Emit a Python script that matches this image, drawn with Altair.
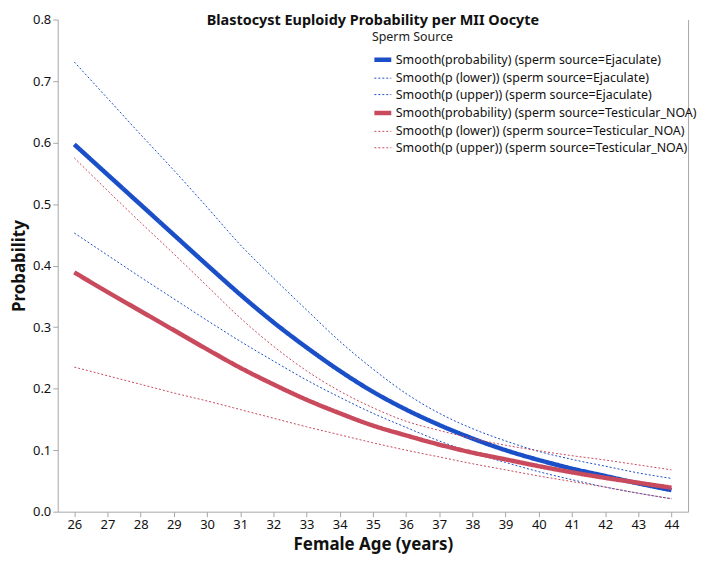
import altair as alt
import pandas as pd

ages = list(range(26, 45))

ejac_prob = [0.597, 0.548, 0.499, 0.450, 0.401, 0.353, 0.308, 0.267, 0.229, 0.195,
             0.166, 0.141, 0.119, 0.100, 0.084, 0.070, 0.058, 0.046, 0.035]
ejac_lower = [0.453, 0.417, 0.381, 0.346, 0.311, 0.277, 0.245, 0.214, 0.186, 0.160,
              0.137, 0.115, 0.096, 0.080, 0.065, 0.052, 0.040, 0.030, 0.021]
ejac_upper = [0.731, 0.672, 0.613, 0.555, 0.495, 0.434, 0.380, 0.328, 0.277, 0.232,
              0.192, 0.160, 0.135, 0.115, 0.098, 0.085, 0.074, 0.063, 0.054]
tes_prob = [0.389, 0.357, 0.326, 0.295, 0.264, 0.234, 0.207, 0.182, 0.160, 0.140,
            0.124, 0.109, 0.096, 0.085, 0.074, 0.064, 0.055, 0.047, 0.039]
tes_lower = [0.235, 0.221, 0.207, 0.193, 0.180, 0.166, 0.152, 0.138, 0.125, 0.112,
             0.100, 0.089, 0.078, 0.068, 0.058, 0.049, 0.040, 0.030, 0.021]
tes_upper = [0.575, 0.522, 0.470, 0.419, 0.367, 0.315, 0.269, 0.229, 0.196, 0.169,
             0.147, 0.132, 0.119, 0.108, 0.099, 0.091, 0.084, 0.076, 0.068]

y_ticks = [0.0, 0.1, 0.2, 0.3, 0.4, 0.5, 0.6, 0.7, 0.8]

series_names = [
    "Smooth(probability) (sperm source=Ejaculate)",
    "Smooth(p (lower)) (sperm source=Ejaculate)",
    "Smooth(p (upper)) (sperm source=Ejaculate)",
    "Smooth(probability) (sperm source=Testicular_NOA)",
    "Smooth(p (lower)) (sperm source=Testicular_NOA)",
    "Smooth(p (upper)) (sperm source=Testicular_NOA)",
]
series_values = [ejac_prob, ejac_lower, ejac_upper, tes_prob, tes_lower, tes_upper]
draw_order = [1, 2, 4, 5, 0, 3]

rows = []
for i, (name, vals) in enumerate(zip(series_names, series_values)):
    for a, v in zip(ages, vals):
        rows.append({"age": a, "value": v, "series": name, "order": draw_order[i]})
df = pd.DataFrame(rows)

BLUE = "#1a4fc8"
RED = "#c94a5c"
GRAY = "#a6a6a6"
FONT = "Noto Sans"

xscale = alt.Scale(domain=[25.5, 44.5], nice=False, zero=False)
yscale = alt.Scale(domain=[0, 0.8], nice=False)

x_axis = alt.Axis(values=ages, format="d", title="Female Age (years)", labelOverlap=False,
                  grid=False, domainColor=GRAY, tickColor=GRAY, tickSize=5,
                  labelFontSize=13, labelColor="#111", labelPadding=2,
                  titleFontSize=17, titleFontWeight="bold", titleColor="#111",
                  titlePadding=5)

legend_cfg = alt.Legend(
    title="Sperm Source", orient="none", legendX=316, legendY=12,
    symbolType="stroke", symbolSize=289, labelOffset=2, padding=0,
    titleFontSize=12.5, titleFontWeight="normal", titleColor="#222",
    labelFontSize=12.5, labelColor="#111", labelLimit=400, rowPadding=0.5,
    titlePadding=5,
)

lines = alt.Chart(df).mark_line(interpolate="monotone").encode(
    x=alt.X("age:Q", scale=xscale, axis=x_axis),
    y=alt.Y("value:Q", scale=yscale,
            axis=alt.Axis(values=y_ticks, format=".1f",
                          title="Probability", grid=False, domainColor=GRAY, tickColor=GRAY,
                          tickSize=5, labelFontSize=13, labelColor="#111", labelPadding=2,
                          titleFontSize=17, titleFontWeight="bold", titleColor="#111",
                          titlePadding=4)),
    color=alt.Color("series:N", scale=alt.Scale(domain=series_names,
                    range=[BLUE, BLUE, BLUE, RED, RED, RED]), legend=legend_cfg),
    strokeDash=alt.StrokeDash("series:N", scale=alt.Scale(domain=series_names,
                    range=[[1, 0], [2, 2], [2, 2], [1, 0], [2, 2], [2, 2]]), legend=legend_cfg),
    strokeWidth=alt.StrokeWidth("series:N", scale=alt.Scale(type="ordinal", domain=series_names,
                    range=[4.5, 1, 1, 4.5, 1, 1]), legend=legend_cfg),
    order=alt.Order("order:Q"),
    detail="series:N",
)

right_border = alt.Chart(df).mark_point(opacity=0).encode(
    x=alt.X("age:Q", scale=xscale, axis=x_axis),
    y=alt.Y("value:Q", scale=yscale,
            axis=alt.Axis(orient="right", labels=False, ticks=False, title=None,
                          grid=False, domainColor=GRAY)),
)

chart = alt.layer(lines, right_border).resolve_axis(y="independent").properties(
    width=634, height=495,
    padding={"top": 3, "left": 2, "bottom": 3, "right": 2},
    title=alt.Title("Blastocyst Euploidy Probability per MII Oocyte", fontSize=14.5,
                    fontWeight="bold", color="#111", offset=-15, frame="group", font=FONT),
).configure(font=FONT).configure_view(stroke=None)

chart.save("out.html", embed_options={"renderer": "svg", "actions": False})
